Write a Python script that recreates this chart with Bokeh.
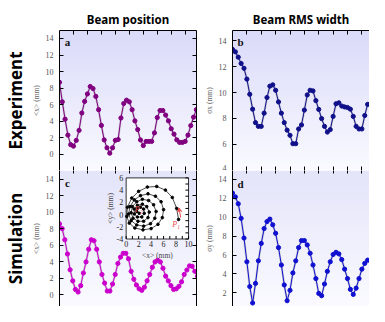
import numpy as np
from bokeh.plotting import figure
from bokeh.models import Range1d, LinearAxis, FixedTicker, Title, Arrow, VeeHead
from bokeh.layouts import row, column
from bokeh.embed import file_html
from bokeh.resources import INLINE

# ---------------- data ----------------
STEP_POS_EXP = 0.2
STEP_POS_SIM = 0.19
STEP_RMS = 0.2

pos_exp = [8.7, 6.35, 4.25, 2.33, 1.18, 1.0, 1.69, 2.9, 5.0, 6.4, 7.3, 8.2, 7.95, 7.0, 5.4,
           3.5, 1.75, 0.8, 0.15, 0.8, 1.7, 1.8, 4.4, 6.15, 6.55, 6.35, 5.4, 4.05, 3.0, 1.75,
           1.07, 1.57, 1.57, 1.57, 2.6, 4.45, 5.3, 5.3, 4.75, 4.05, 3.1, 2.45, 1.76, 1.45,
           1.45, 1.57, 2.33, 3.48, 4.5, 5.4]
pos_sim = [8.58, 8.0, 6.66, 4.94, 3.03, 1.69, 0.65, 0.34, 1.11, 2.64, 3.98, 5.51, 6.66, 6.54,
           5.51, 3.98, 2.46, 1.42, 0.46, 0.46, 1.3, 2.46, 3.79, 4.56, 5.02, 5.02, 4.36, 2.84,
           1.88, 1.19, 0.73, 0.54, 0.92, 1.69, 2.46, 3.33, 3.98, 4.18, 3.98, 3.21, 2.26, 1.69,
           1.11, 0.65, 0.73, 1.03, 1.57, 2.46, 3.0, 3.5, 3.45, 2.84, 2.26]
rms_exp = [13.34, 13.15, 12.74, 12.25, 11.88, 11.04, 9.87, 8.72, 7.68, 7.39, 7.39, 8.41, 9.62,
           10.5, 10.6, 10.18, 9.28, 8.41, 7.68, 7.1, 6.7, 6.05, 6.05, 7.19, 7.5, 8.65, 9.82,
           10.18, 10.13, 9.38, 8.7, 7.99, 7.39, 6.95, 7.14, 8.16, 9.14, 9.21, 8.96, 8.89, 8.85,
           8.72, 8.16, 7.39, 7.19, 7.19, 8.23, 9.09, 9.14, 9.14]
rms_sim = [12.55, 12.15, 11.42, 9.88, 7.8, 5.29, 2.67, 0.93, 3.0, 5.39, 7.23, 8.8, 9.54, 9.8,
           9.2, 8.3, 6.79, 4.95, 2.84, 1.17, 2.27, 4.11, 5.39, 6.79, 7.53, 7.53, 7.07, 6.19,
           4.95, 3.51, 1.94, 1.7, 2.94, 4.28, 5.29, 6.06, 6.29, 6.12, 5.52, 4.51, 3.51, 2.37,
           1.84, 2.5, 3.51, 4.51, 5.12, 5.46, 5.39]

# inset: beam centroid trajectory <x>, <y> (mm)
spiral_x = [8.4, 8.1, 7.4, 6.3, 4.9, 3.4, 2.0, 0.9, 0.2, 0.1, 0.5, 1.4, 2.7, 4.0, 5.1, 5.8,
            6.0, 5.6, 4.7, 3.5, 2.3, 1.3, 0.6, 0.4, 0.8, 1.7, 2.8, 3.9, 4.6,
            4.8, 4.4, 3.6, 2.6, 1.7, 1.0, 0.8, 1.1, 1.9, 2.8, 3.5,
            3.7, 3.3, 2.6, 1.8, 1.3, 1.3, 1.8, 2.5, 2.9,
            2.8, 2.3, 1.8, 1.7, 2.1]
spiral_y = [-0.8, 1.0, 2.8, 4.0, 4.6, 4.5, 3.8, 2.7, 1.2, -0.3, -1.4, -2.2, -2.5, -2.3, -1.6, -0.5,
            0.8, 2.1, 3.0, 3.4, 3.1, 2.4, 1.3, 0.1, -1.0, -1.7, -1.9, -1.5, -0.6,
            0.5, 1.6, 2.3, 2.5, 2.1, 1.3, 0.3, -0.6, -1.1, -1.1, -0.5,
            0.4, 1.3, 1.7, 1.5, 0.9, 0.1, -0.4, -0.4, 0.2,
            0.9, 1.2, 1.0, 0.5, 0.2]
point_labels = ["P\u2081", "P\u2082"]
point_label_x = [8.0, 2.0]
point_label_y = [-1.6, 0.9]

col_titles = ["Beam position", "Beam RMS width"]
row_titles = ["Experiment", "Simulation"]
panel_letters = ["a", "b", "c", "d"]
y_titles = ["<x> (mm)", "<x> (mm)", "\u03c3x (mm)", "\u03c3y (mm)"]
inset_x_title = "<x> (mm)"
inset_y_title = "<y> (mm)"

x_ticks = [1, 2, 3, 4, 5, 6, 7, 8, 9]
pos_ticks = [0, 2, 4, 6, 8, 10, 12, 14]
rms_exp_ticks = [4, 6, 8, 10, 12, 14]
rms_sim_ticks = [2, 4, 6, 8, 10, 12, 14]
inset_x_ticks = [0, 2, 4, 6, 8, 10]
inset_y_ticks = [-4, -2, 0, 2, 4, 6]
inset_x_minor = [0, 1, 2, 3, 4, 5, 6, 7, 8, 9, 10]
inset_y_minor = [-4, -3, -2, -1, 0, 1, 2, 3, 4, 5, 6]
INSET_X = (0, 10)
INSET_Y = (-4, 6)

# ---------------- layout / style ----------------
W_L, W_R = 197, 172
H_T, H_B = 170, 136
BL_L, BL_R, BT = 55, 35, 30

X_AC = (0, 9.81)
X_BD = (0, 9.53)
Y_A = (-1.94, 14.96)
Y_C = (-1.41, 15.03)
Y_B = (3.98, 14.8)
Y_D = (0.56, 14.94)

# inset placement inside panel c (pixel box inside the frame of panel c)
FRAME_C_W, FRAME_C_H = W_L - BL_L - 1, H_B
IN_L, IN_R, IN_T, IN_B = 68.6, 132.8, 7.4, 68.5
pxx = (IN_R - IN_L) / (INSET_X[1] - INSET_X[0])
pxy = (IN_B - IN_T) / (INSET_Y[1] - INSET_Y[0])
IX = (INSET_X[0] - IN_L / pxx, INSET_X[1] + (FRAME_C_W - IN_R) / pxx)
IY = (INSET_Y[0] - (FRAME_C_H - IN_B) / pxy, INSET_Y[1] + IN_T / pxy)

TICK_FONT = "Liberation Serif"
TICK_SIZE = "8px"
TICK_COLOR = "#555555"
HEAD_FONT = "Noto Sans"

COL_POS_EXP = "#800080"
COL_POS_SIM = "#cc00cc"
COL_RMS_EXP = "#10108a"
COL_RMS_SIM = "#1010d0"
RED = "#e84848"


def make_panel(w, h, xr, yr, bl, bt, br):
    p = figure(width=w, height=h, x_range=Range1d(*xr), y_range=Range1d(*yr),
               x_axis_location=None, y_axis_location=None, toolbar_location=None,
               output_backend="svg", title=None,
               min_border_left=bl, min_border_right=br, min_border_top=bt,
               min_border_bottom=0, outline_line_color=None,
               border_fill_color="white", background_fill_color="white")
    p.grid.visible = False
    return p


def add_axis(p, side, ticks, labels=False, tick_in=4, line=True, title=None):
    ax = LinearAxis(ticker=FixedTicker(ticks=ticks, minor_ticks=[]))
    ax.major_tick_in = tick_in
    ax.major_tick_out = 0
    ax.minor_tick_in = 0
    ax.minor_tick_out = 0
    ax.major_tick_line_color = "black"
    ax.axis_line_color = "black" if line else None
    if labels:
        ax.major_label_text_font = TICK_FONT
        ax.major_label_text_font_size = TICK_SIZE
        ax.major_label_text_color = TICK_COLOR
        ax.major_label_standoff = 6
    else:
        # tick marks only: labels are not drawn and take no room
        ax.major_label_text_color = None
        ax.major_label_text_alpha = 0
        ax.major_label_text_font_size = "0px"
        ax.major_label_standoff = 0
    if title:
        ax.axis_label = title
        ax.axis_label_text_font = TICK_FONT
        ax.axis_label_text_font_size = "7.5px"
        ax.axis_label_text_font_style = "normal"
        ax.axis_label_text_color = "#666666"
        ax.axis_label_standoff = 2
    p.add_layout(ax, side)
    return ax


def gradient(p, xr, yr, top, bottom, n=128):
    img = np.empty((n, 1), dtype=np.uint32)
    view = img.view(dtype=np.uint8).reshape((n, 1, 4))
    for k in range(n):
        f = k / (n - 1)
        for c in range(3):
            view[k, 0, c] = int(round(bottom[c] + (top[c] - bottom[c]) * f))
        view[k, 0, 3] = 255
    p.image_rgba(image=[img], x=xr[0], y=yr[0], dw=xr[1] - xr[0], dh=yr[1] - yr[0],
                 level="image")


def series(p, x, y, color):
    p.line(x, y, line_color="#9a9a9a", line_width=2.2, line_alpha=0.45)
    p.line(x, y, line_color=color, line_width=1)
    p.scatter(x, y, marker="circle", size=4.2, fill_color=color, line_color=color)


def head_title(p, text, side, size, standoff):
    t = Title(text=text, align="center", text_font=HEAD_FONT, text_font_size=size,
              text_font_style="bold", text_color="black", standoff=standoff)
    p.add_layout(t, side)


def letter(p, text, xr, yr, dy):
    p.text(x=[xr[0]], y=[yr[1]], text=[text], x_offset=8, y_offset=dy,
           text_align="center", text_baseline="middle", text_font=HEAD_FONT,
           text_font_size="11px", text_font_style="bold", text_color="#111111")


x_pe = [round(i * STEP_POS_EXP, 3) for i in range(len(pos_exp))]
x_ps = [round(i * STEP_POS_SIM, 3) for i in range(len(pos_sim))]
x_re = [round(i * STEP_RMS, 3) for i in range(len(rms_exp))]
x_rs = [round(i * STEP_RMS, 3) for i in range(len(rms_sim))]

# ---- panel a ----
fa = make_panel(W_L, H_T, X_AC, Y_A, BL_L, BT, 1)
gradient(fa, X_AC, Y_A, (218, 218, 250), (250, 250, 255))
add_axis(fa, "left", pos_ticks, labels=True, title=y_titles[0])
add_axis(fa, "right", pos_ticks)
add_axis(fa, "above", x_ticks)
add_axis(fa, "below", x_ticks)
head_title(fa, col_titles[0], "above", "11.5px", 7)
head_title(fa, row_titles[0], "left", "17px", 3)
series(fa, x_pe, pos_exp, COL_POS_EXP)
letter(fa, panel_letters[0], X_AC, Y_A, 11)

# ---- panel b ----
fb = make_panel(W_R, H_T, X_BD, Y_B, BL_R, BT, 0)
gradient(fb, X_BD, Y_B, (218, 218, 250), (250, 250, 255))
add_axis(fb, "left", rms_exp_ticks, labels=True, title=y_titles[2])
add_axis(fb, "above", x_ticks)
add_axis(fb, "below", x_ticks)
head_title(fb, col_titles[1], "above", "11.5px", 7)
series(fb, x_re, rms_exp, COL_RMS_EXP)
letter(fb, panel_letters[1], X_BD, Y_B, 11)

# ---- panel c ----
fc = make_panel(W_L, H_B, X_AC, Y_C, BL_L, 0, 1)
gradient(fc, X_AC, Y_C, (228, 228, 250), (250, 250, 255))
add_axis(fc, "left", pos_ticks, labels=True, title=y_titles[1])
add_axis(fc, "right", pos_ticks)
add_axis(fc, "above", x_ticks, tick_in=3, line=False)
head_title(fc, row_titles[1], "left", "17px", 3)

fc.extra_x_ranges = {"ix": Range1d(*IX)}
fc.extra_y_ranges = {"iy": Range1d(*IY)}
R = dict(x_range_name="ix", y_range_name="iy")
fc.quad(left=[INSET_X[0]], right=[INSET_X[1]], bottom=[INSET_Y[0]], top=[INSET_Y[1]],
        fill_color="white", line_color="black", line_width=0.8, **R)
series(fc, x_ps, pos_sim, COL_POS_SIM)
letter(fc, panel_letters[2], X_AC, Y_C, 12)
# inset ticks
fc.segment(x0=inset_x_minor, y0=[INSET_Y[0]] * len(inset_x_minor), x1=inset_x_minor,
           y1=[INSET_Y[0] + 0.5] * len(inset_x_minor), line_color="black", line_width=1, **R)
fc.segment(x0=[INSET_X[1]] * len(inset_y_minor), y0=inset_y_minor,
           x1=[INSET_X[1] - 0.5] * len(inset_y_minor), y1=inset_y_minor,
           line_color="black", line_width=1, **R)
fc.text(x=inset_x_ticks, y=[INSET_Y[0]] * len(inset_x_ticks),
        text=[str(v) for v in inset_x_ticks], text_align="center", text_baseline="top",
        y_offset=2, text_font_size="8px", text_color="#222222", text_font="DejaVu Sans", **R)
fc.text(x=[INSET_X[0]] * len(inset_y_ticks), y=inset_y_ticks,
        text=[str(v) for v in inset_y_ticks], text_align="right", text_baseline="middle",
        x_offset=-3, text_font_size="8px", text_color="#222222", text_font="DejaVu Sans", **R)
fc.text(x=[(INSET_X[0] + INSET_X[1]) / 2], y=[INSET_Y[0]], text=[inset_x_title],
        text_align="center", text_baseline="top", y_offset=12, text_font_size="7.5px",
        text_color="#444444", text_font=TICK_FONT, **R)
fc.text(x=[INSET_X[0]], y=[(INSET_Y[0] + INSET_Y[1]) / 2], text=[inset_y_title], angle=np.pi / 2,
        text_align="center", text_baseline="bottom", x_offset=-11, text_font_size="7.5px",
        text_color="#444444", text_font=TICK_FONT, **R)
# trajectory
fc.line(spiral_x, spiral_y, line_color="black", line_width=0.7, **R)
fc.scatter(spiral_x, spiral_y, marker="circle", size=2.6, fill_color="black",
           line_color="black", **R)
fc.text(x=point_label_x, y=point_label_y, text=point_labels, text_align="center",
        text_baseline="middle", text_font_size="8px", text_font_style="italic",
        text_color=RED, text_font="DejaVu Serif", **R)
fc.add_layout(Arrow(x_start=8.75, y_start=-0.5, x_end=8.45, y_end=1.1,
                    line_color=RED, line_width=1,
                    end=VeeHead(size=4, line_color=RED, fill_color=RED), **R))

# ---- panel d ----
fd = make_panel(W_R, H_B, X_BD, Y_D, BL_R, 0, 0)
gradient(fd, X_BD, Y_D, (228, 228, 250), (250, 250, 255))
add_axis(fd, "left", rms_sim_ticks, labels=True, title=y_titles[3])
add_axis(fd, "above", x_ticks, tick_in=3, line=False)
series(fd, x_rs, rms_sim, COL_RMS_SIM)
letter(fd, panel_letters[3], X_BD, Y_D, 13)

layout = column(row(fa, fb), row(fc, fd))

with open("out.html", "w") as f:
    f.write(file_html(layout, INLINE))
